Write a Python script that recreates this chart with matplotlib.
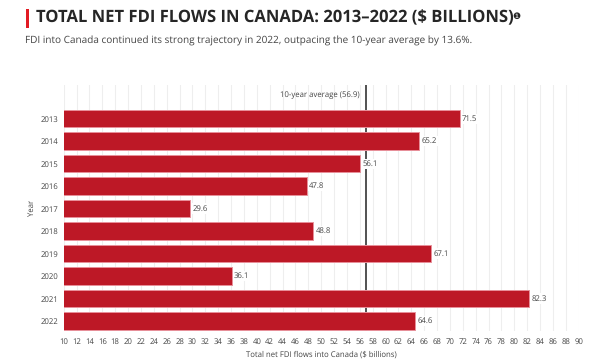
import matplotlib
matplotlib.use('Agg')
import matplotlib.pyplot as plt
from matplotlib.patches import Rectangle

years = ['2013', '2014', '2015', '2016', '2017', '2018', '2019', '2020', '2021', '2022']
values = [71.5, 65.2, 56.1, 47.8, 29.6, 48.8, 67.1, 36.1, 82.3, 64.6]
average = 56.9
x_ticks = list(range(10, 92, 2))

W, H = 600, 360
TXT = '#444444'
plt.rcParams['font.family'] = ['Open Sans', 'DejaVu Sans']
plt.rcParams['text.hinting'] = 'no_hinting'

fig = plt.figure(figsize=(W / 100, H / 100), dpi=100, facecolor='white')
# plot area in pixels: x 63.7-578.7, y 85-331
ax = fig.add_axes([63.7 / W, 1 - 331 / H, 515 / W, 246 / H])

pos = list(range(len(years)))
ax.axvline(average, color='#333333', linewidth=1.2, zorder=2)
ax.barh(pos, values, height=0.78, color='#bd1826', edgecolor='#e8909a', linewidth=0.7, zorder=3)
for p, v in zip(pos, values):
    ax.text(v + 0.35, p, f'{v:.1f}', va='center', ha='left', fontsize=5.6, color=TXT, zorder=4,
            bbox=dict(facecolor='white', edgecolor='none', pad=0.8))

ax.text(average - 0.88, -1.06, f'10-year average ({average})', ha='right', va='center',
        fontsize=5.6, color=TXT)

ax.set_xlim(10, 90)
ax.set_ylim(9.45, -1.5)
ax.set_xticks(x_ticks)
ax.set_xticklabels([str(t) for t in x_ticks], fontsize=5.6, color=TXT)
ax.set_yticks(pos)
ax.set_yticklabels(years, fontsize=5.6, color=TXT)
ax.tick_params(axis='x', length=0, pad=5)
ax.tick_params(axis='y', length=0, pad=3.6)
ax.grid(axis='x', color='#eeeeee', linewidth=0.8, zorder=0)
ax.set_axisbelow(True)
for s in ax.spines.values():
    s.set_visible(False)

ax.set_xlabel('Total net FDI flows into Canada ($ billions)', fontsize=5.6, color=TXT, labelpad=3.5)
ax.set_ylabel('Year', fontsize=5.6, color=TXT, labelpad=4)

fig.add_artist(Rectangle((25.5 / W, 1 - 27.5 / H), 3.5 / W, 18 / H, transform=fig.transFigure,
                         color='#e21b23', lw=0))
fig.text(36 / W, 1 - 18 / H, 'TOTAL NET FDI FLOWS IN CANADA: 2013–2022 ($ BILLIONS)', fontsize=11.95,
         fontweight='bold', color='#262626', va='center', ha='left')
fig.text(512.5 / W, 1 - 16.7 / H, '❶', fontsize=6.5, color='#262626', va='center', ha='left',
         family=['DejaVu Sans'])
fig.text(25.3 / W, 1 - 41 / H,
         'FDI into Canada continued its strong trajectory in 2022, outpacing the 10-year average by 13.6%.',
         fontsize=7.17, color=TXT, va='center', ha='left')

fig.savefig('out.png', dpi=100)
